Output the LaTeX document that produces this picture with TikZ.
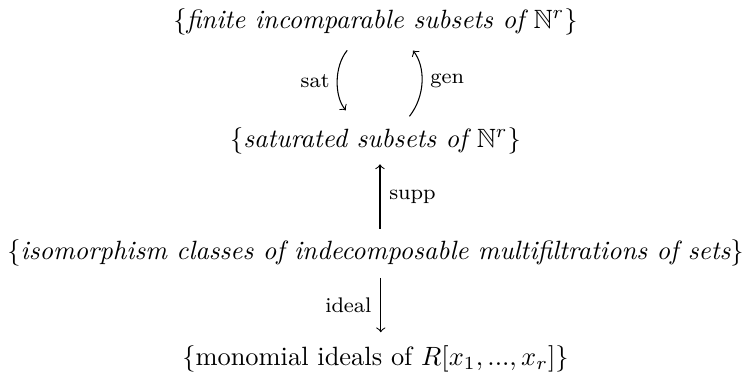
\documentclass[tikz,border=0pt]{standalone}
\usepackage{amsmath}
\usepackage{amssymb}
\usetikzlibrary{positioning}
\tikzset{
  setnode/.style={inner sep=3pt},
  mapto/.style={->},
  maplabel/.style={font=\footnotesize}
}
\begin{document}
\begin{tikzpicture}
\useasboundingbox (-142pt,0pt) rectangle (142pt,-143pt);
\node[setnode] (fin) at (0pt,-8.24pt) {$\{\textit{finite incomparable subsets of }\mathbb{N}^r\}$};
\node[setnode, below=28.5pt of fin] (sat) {$\{\textit{saturated subsets of }\mathbb{N}^r\}$};
\node[setnode, below=26pt of sat] (iso) {$\{\textit{isomorphism classes of indecomposable multifiltrations of sets}\}$};
\node[setnode, below=23.7pt of iso] (mono) {$\{\text{monomial ideals of }R[x_1,...,x_r]\}$};
% sat / gen
\draw[mapto, shorten <=3.4pt, shorten >=4.25pt] ([xshift=-8.5pt]fin.south) to[bend right=40] node[maplabel, left] {sat} ([xshift=-8.5pt]sat.north);
\draw[mapto, shorten <=1.2pt, shorten >=3.4pt] ([xshift=12.1pt]sat.north) to[bend right=38] node[maplabel, right] {gen} ([xshift=12.1pt]fin.south);
% supp / ideal
\draw[mapto, shorten <=0.9pt, shorten >=0.8pt] ([xshift=1.7pt]iso.north) -- node[maplabel, right] {supp} ([xshift=1.7pt]sat.south);
\draw[mapto, shorten <=1.3pt, shorten >=1.8pt] ([xshift=2pt]iso.south) -- node[maplabel, left] {ideal} ([xshift=2pt]mono.north);
\end{tikzpicture}
\end{document}
